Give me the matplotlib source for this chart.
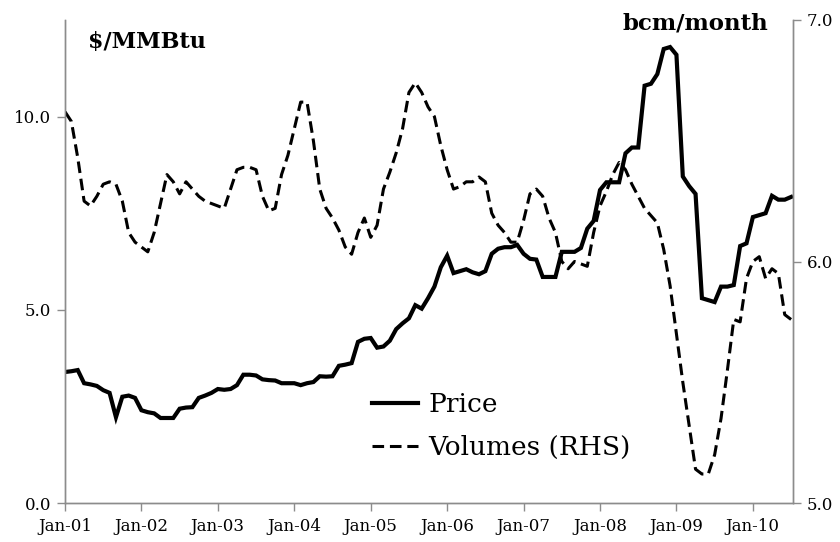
import numpy as np
import matplotlib
matplotlib.use("Agg")
import matplotlib.pyplot as plt
from matplotlib.lines import Line2D

plt.rcParams['font.family'] = ['DejaVu Serif']

# monthly data, Jan-01 .. Jul-10
price = [3.39, 3.41, 3.44, 3.10, 3.07, 3.03, 2.92, 2.85, 2.22, 2.75,
         2.78, 2.72, 2.40, 2.35, 2.32, 2.20, 2.20, 2.20, 2.44, 2.47,
         2.48, 2.72, 2.78, 2.85, 2.95, 2.93, 2.95, 3.05, 3.32, 3.32,
         3.30, 3.20, 3.18, 3.17, 3.10, 3.10, 3.10, 3.05, 3.10, 3.13,
         3.28, 3.27, 3.28, 3.55, 3.58, 3.62, 4.17, 4.25, 4.27, 4.02,
         4.05, 4.20, 4.50, 4.65, 4.78, 5.12, 5.03, 5.30, 5.60, 6.10,
         6.40, 5.95, 6.00, 6.05, 5.97, 5.92, 6.00, 6.45, 6.58, 6.62,
         6.62, 6.68, 6.45, 6.32, 6.30, 5.85, 5.85, 5.85, 6.50, 6.50,
         6.50, 6.60, 7.10, 7.30, 8.10, 8.30, 8.30, 8.30, 9.05, 9.20,
         9.20, 10.80, 10.85, 11.10, 11.75, 11.80, 11.60, 8.45, 8.20, 8.00,
         5.30, 5.25, 5.20, 5.60, 5.60, 5.64, 6.65, 6.72, 7.40, 7.45,
         7.50, 7.95, 7.85, 7.85, 7.92]

volumes = [6.62, 6.58, 6.43, 6.25, 6.23, 6.27, 6.32, 6.33, 6.32, 6.25,
           6.12, 6.08, 6.06, 6.04, 6.12, 6.24, 6.36, 6.33, 6.28, 6.33,
           6.30, 6.27, 6.25, 6.24, 6.23, 6.22, 6.30, 6.38, 6.39, 6.39,
           6.38, 6.27, 6.21, 6.22, 6.36, 6.44, 6.55, 6.66, 6.66, 6.50,
           6.30, 6.22, 6.18, 6.13, 6.06, 6.03, 6.12, 6.18, 6.10, 6.15,
           6.30, 6.37, 6.45, 6.55, 6.70, 6.74, 6.70, 6.64, 6.60, 6.48,
           6.38, 6.30, 6.31, 6.33, 6.33, 6.35, 6.33, 6.20, 6.15, 6.12,
           6.08, 6.08, 6.17, 6.28, 6.30, 6.27, 6.18, 6.12, 6.00, 5.97,
           6.00, 5.99, 5.98, 6.12, 6.23, 6.29, 6.36, 6.41, 6.38, 6.32,
           6.27, 6.22, 6.19, 6.16, 6.05, 5.90, 5.70, 5.50, 5.32, 5.14,
           5.12, 5.12, 5.20, 5.35, 5.55, 5.76, 5.75, 5.93, 6.00, 6.02,
           5.93, 5.97, 5.95, 5.78, 5.76]

tick_labels = ['Jan-01', 'Jan-02', 'Jan-03', 'Jan-04', 'Jan-05',
               'Jan-06', 'Jan-07', 'Jan-08', 'Jan-09', 'Jan-10']

x = np.arange(len(price))
axis_grey = '#8c8c8c'
dash = (0, (3.8, 1.9))

fig = plt.figure(figsize=(8.4, 5.42), dpi=100)
ax = fig.add_axes([65 / 840, 39 / 542, 728 / 840, 483 / 542])
ax2 = ax.twinx()

ax.plot(x, price, color='black', lw=3.0, solid_joinstyle='miter')
ax2.plot(x, volumes, color='black', lw=2.2, ls=dash)

ax.set_xlim(0, 114.3)
ax.set_ylim(0, 12.5)
ax2.set_ylim(5, 7)
ax.set_yticks([0, 5, 10])
ax.set_yticklabels(['0.0', '5.0', '10.0'])
ax2.set_yticks([5, 6, 7])
ax2.set_yticklabels(['5.0', '6.0', '7.0'])
ax.set_xticks(np.arange(0, 120, 12))
ax.set_xticklabels(tick_labels)

for a in (ax, ax2):
    a.spines['top'].set_visible(False)
    for s in ('left', 'right', 'bottom'):
        a.spines[s].set_color(axis_grey)
        a.spines[s].set_linewidth(1.0)
    a.tick_params(direction='out', length=6, width=1.0, color=axis_grey,
                  labelsize=12, pad=4)
ax.tick_params(axis='x', pad=5)

fig.text(88 / 840, 1 - 48 / 542, '$/MMBtu', fontsize=16, fontweight='bold')
fig.text(768 / 840, 1 - 30 / 542, 'bcm/month', fontsize=16.5,
         fontweight='bold', ha='right')

handles = [Line2D([], [], color='black', lw=3.0),
           Line2D([], [], color='black', lw=2.2, ls=dash)]
ax2.legend(handles, ['Price', 'Volumes (RHS)'], loc='upper left',
           bbox_to_anchor=(372 / 840, 1 - 392 / 542),
           bbox_transform=fig.transFigure, frameon=False, fontsize=19,
           handlelength=1.75, handletextpad=0.4, labelspacing=0.68,
           borderpad=0, borderaxespad=0)

fig.savefig('out.png', dpi=100)
